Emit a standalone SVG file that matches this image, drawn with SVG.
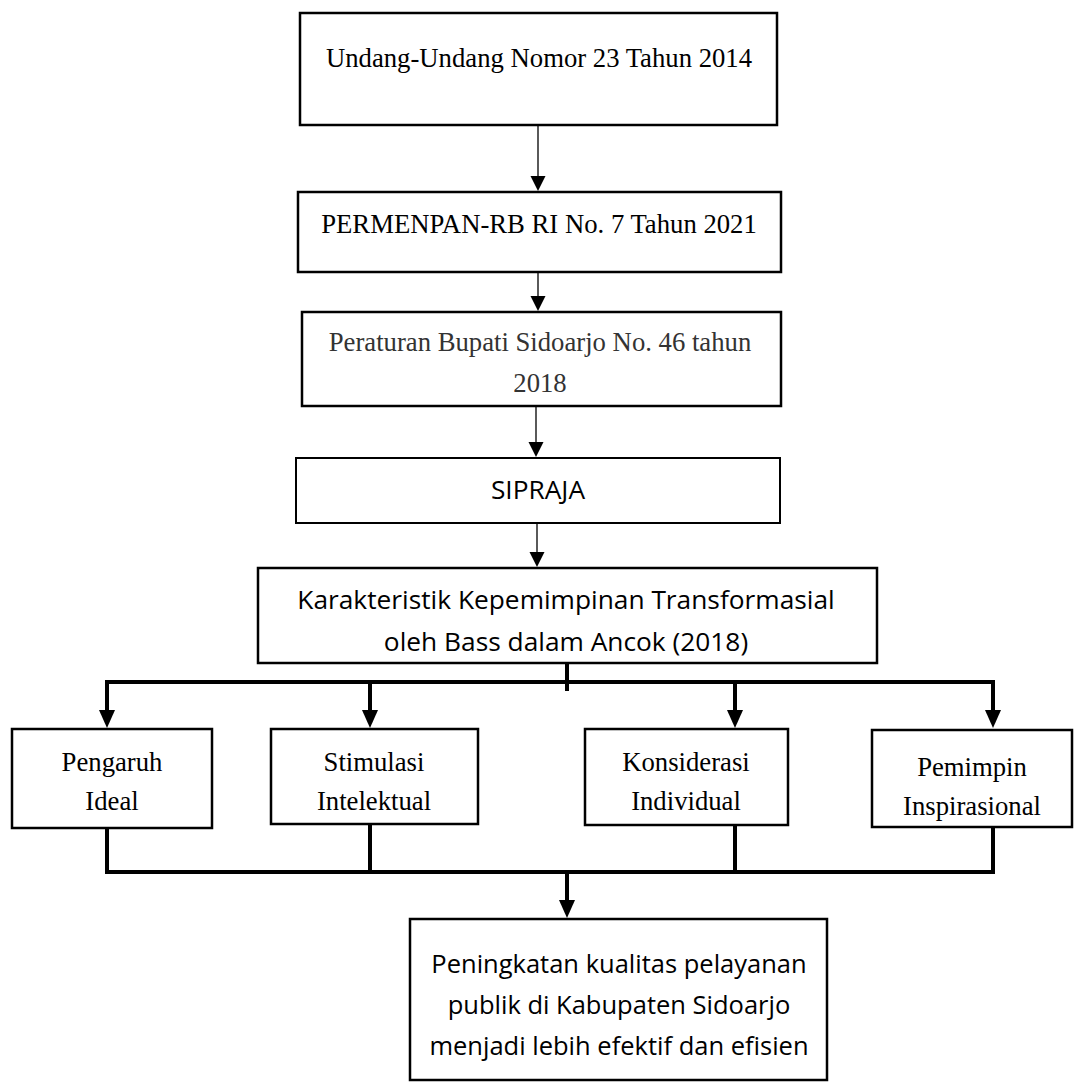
<svg xmlns="http://www.w3.org/2000/svg" width="1085" height="1090" viewBox="0 0 1085 1090">
<defs>
<style>
.box{fill:#fff;stroke:#000;stroke-width:2.5}
.serif{font-family:"Liberation Serif","Times New Roman",serif;font-size:26.7px;fill:#000;text-anchor:middle}
.sans{font-family:"Open Sans","Noto Sans",sans-serif;font-size:25.5px;fill:#000;text-anchor:middle}
.big{font-size:26.3px}
.thin{stroke:#000;stroke-width:1.3;fill:none}
.thick{stroke:#000;stroke-width:4;fill:none}
.head{fill:#000}
</style>
</defs>
<rect width="1085" height="1090" fill="#fff"/>
<g id="connectors">
<line class="thin" x1="538" y1="125" x2="538" y2="177"/>
<polygon class="head" points="530.5,176 545.5,176 538,191"/>
<line class="thin" x1="538" y1="272" x2="538" y2="297"/>
<polygon class="head" points="530.5,296 545.5,296 538,311"/>
<line class="thin" x1="536" y1="406" x2="536" y2="443"/>
<polygon class="head" points="528.5,442 543.5,442 536,457"/>
<line class="thin" x1="537" y1="523" x2="537" y2="553"/>
<polygon class="head" points="529.5,552 544.5,552 537,567"/>
<line class="thick" x1="567" y1="663" x2="567" y2="691"/>
<polyline class="thick" points="107,712 107,682 993,682 993,712"/>
<line class="thick" x1="370" y1="682" x2="370" y2="712"/>
<line class="thick" x1="735" y1="682" x2="735" y2="712"/>
<polygon class="head" points="99,710 115,710 107,728"/>
<polygon class="head" points="362,710 378,710 370,728"/>
<polygon class="head" points="727,710 743,710 735,728"/>
<polygon class="head" points="985,710 1001,710 993,728"/>
<polyline class="thick" points="107,828 107,872 993,872 993,827"/>
<line class="thick" x1="370" y1="824" x2="370" y2="872"/>
<line class="thick" x1="735" y1="825" x2="735" y2="872"/>
<line class="thick" x1="567" y1="872" x2="567" y2="902"/>
<polygon class="head" points="559,900 575,900 567,918"/>
</g>
<g id="n1">
<rect class="box" x="300" y="13" width="477" height="112"/>
<text class="serif" x="539" y="67">Undang-Undang Nomor 23 Tahun 2014</text>
</g>
<g id="n2">
<rect class="box" x="298" y="192" width="483" height="80"/>
<text class="serif" x="539" y="233">PERMENPAN-RB RI No. 7 Tahun 2021</text>
</g>
<g id="n3">
<rect class="box" x="302" y="312" width="479" height="94"/>
<text class="serif" x="540" y="351" style="fill:#333">Peraturan Bupati Sidoarjo No. 46 tahun</text>
<text class="serif" x="540" y="392" style="fill:#333">2018</text>
</g>
<g id="n4">
<rect class="box" x="296" y="458" width="484" height="65" style="stroke-width:2"/>
<text class="sans big" x="538" y="499">SIPRAJA</text>
</g>
<g id="n5">
<rect class="box" x="258" y="568" width="619" height="95"/>
<text class="sans big" x="566" y="609">Karakteristik Kepemimpinan Transformasial</text>
<text class="sans big" x="566" y="651">oleh Bass dalam Ancok (2018)</text>
</g>
<g id="n6">
<rect class="box" x="12" y="729" width="200" height="99"/>
<text class="serif" x="112" y="771">Pengaruh</text>
<text class="serif" x="112" y="810">Ideal</text>
</g>
<g id="n7">
<rect class="box" x="271" y="729" width="207" height="95"/>
<text class="serif" x="374" y="771">Stimulasi</text>
<text class="serif" x="374" y="810">Intelektual</text>
</g>
<g id="n8">
<rect class="box" x="585" y="729" width="203" height="96"/>
<text class="serif" x="686" y="771">Konsiderasi</text>
<text class="serif" x="686" y="810">Individual</text>
</g>
<g id="n9">
<rect class="box" x="872" y="730" width="200" height="97"/>
<text class="serif" x="972" y="776">Pemimpin</text>
<text class="serif" x="972" y="815">Inspirasional</text>
</g>
<g id="n10">
<rect class="box" x="410" y="919" width="417" height="161"/>
<text class="sans" x="619" y="973">Peningkatan kualitas pelayanan</text>
<text class="sans" x="619" y="1014">publik di Kabupaten Sidoarjo</text>
<text class="sans" x="619" y="1055">menjadi lebih efektif dan efisien</text>
</g>
</svg>
